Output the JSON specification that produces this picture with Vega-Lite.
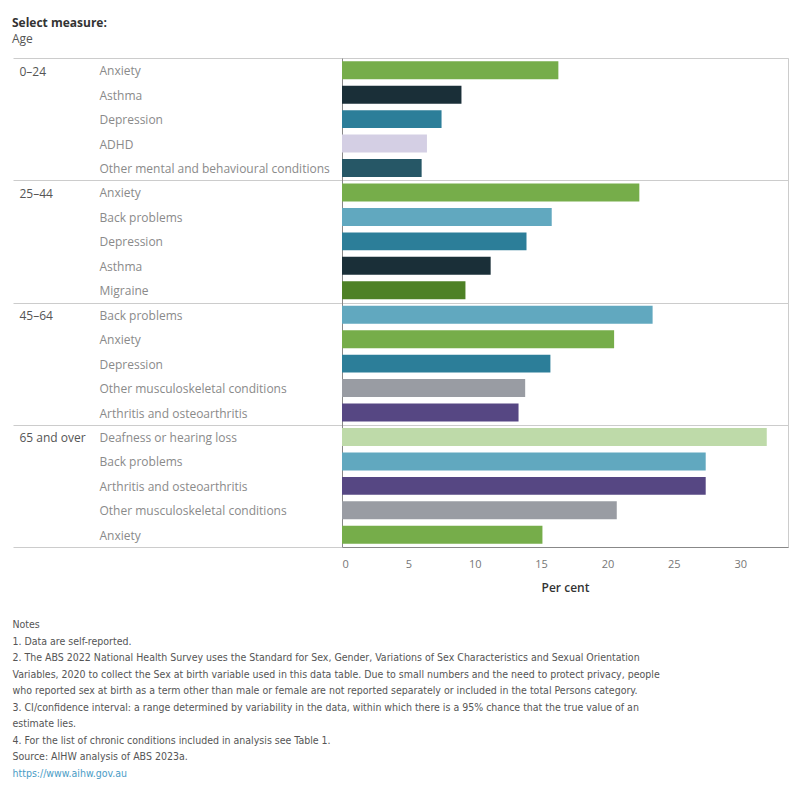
{
  "$schema": "https://vega.github.io/schema/vega-lite/v6.json",
  "padding": {"left": 12, "top": 16, "right": 5, "bottom": 5},
  "background": "white",
  "title": {"text": "Select measure:", "subtitle": "Age", "anchor": "start", "frame": "bounds", "font": "Open Sans", "fontSize": 12, "fontWeight": "bold", "color": "#333333", "subtitleFont": "Open Sans", "subtitleFontSize": 12, "subtitleColor": "#555555", "subtitlePadding": 4, "offset": 6},
  "config": {"view": {"stroke": null}, "font": "Open Sans"},
  "vconcat": [
    {
      "width": 446,
      "height": 489,
      "view": {"stroke": "#cccccc"},
      "title": {
        "text": [
          "Notes",
          "1. Data are self-reported.",
          "2. The ABS 2022 National Health Survey uses the Standard for Sex, Gender, Variations of Sex Characteristics and Sexual Orientation",
          "Variables, 2020 to collect the Sex at birth variable used in this data table. Due to small numbers and the need to protect privacy, people",
          "who reported sex at birth as a term other than male or female are not reported separately or included in the total Persons category.",
          "3. CI/confidence interval: a range determined by variability in the data, within which there is a 95% chance that the true value of an",
          "estimate lies.",
          "4. For the list of chronic conditions included in analysis see Table 1.",
          "Source: AIHW analysis of ABS 2023a."
        ],
        "subtitle": "https://www.aihw.gov.au",
        "orient": "bottom",
        "anchor": "start",
        "frame": "bounds",
        "font": "DejaVu Sans Condensed",
        "fontSize": 10.5,
        "fontWeight": "normal",
        "color": "#555555",
        "lineHeight": 16.5,
        "subtitleFont": "DejaVu Sans Condensed",
        "subtitleFontSize": 10.5,
        "subtitleColor": "#4a9cc6",
        "subtitleLineHeight": 16.5,
        "subtitlePadding": 6.5,
        "offset": 27
      },
      "data": {"values": [
        {"age": "0–24", "condition": "Anxiety", "value": 16.3},
        {"age": "0–24", "condition": "Asthma", "value": 9.0},
        {"age": "0–24", "condition": "Depression", "value": 7.5},
        {"age": "0–24", "condition": "ADHD", "value": 6.4},
        {"age": "0–24", "condition": "Other mental and behavioural conditions", "value": 6.0},
        {"age": "25–44", "condition": "Anxiety", "value": 22.4},
        {"age": "25–44", "condition": "Back problems", "value": 15.8},
        {"age": "25–44", "condition": "Depression", "value": 13.9},
        {"age": "25–44", "condition": "Asthma", "value": 11.2},
        {"age": "25–44", "condition": "Migraine", "value": 9.3},
        {"age": "45–64", "condition": "Back problems", "value": 23.4},
        {"age": "45–64", "condition": "Anxiety", "value": 20.5},
        {"age": "45–64", "condition": "Depression", "value": 15.7},
        {"age": "45–64", "condition": "Other musculoskeletal conditions", "value": 13.8},
        {"age": "45–64", "condition": "Arthritis and osteoarthritis", "value": 13.3},
        {"age": "65 and over", "condition": "Deafness or hearing loss", "value": 32.0},
        {"age": "65 and over", "condition": "Back problems", "value": 27.4},
        {"age": "65 and over", "condition": "Arthritis and osteoarthritis", "value": 27.4},
        {"age": "65 and over", "condition": "Other musculoskeletal conditions", "value": 20.7},
        {"age": "65 and over", "condition": "Anxiety", "value": 15.1}
      ]},
      "layer": [
        {
          "mark": {"type": "point", "opacity": 0},
          "encoding": {
            "y": {"field": "age", "type": "nominal", "sort": null,
              "scale": {"type": "band", "paddingInner": 0, "paddingOuter": 0},
              "axis": {"orient": "left", "title": null, "domain": false, "ticks": true, "tickBand": "extent", "tickSize": 329, "tickColor": "#cccccc", "tickWidth": 1, "grid": true, "gridColor": "#cccccc", "gridWidth": 1, "labelAlign": "left", "labelPadding": -6, "labelOffset": -48, "labelColor": "#555555", "labelFontSize": 12, "labelFont": "Open Sans", "labelBaseline": "middle"}}
          }
        },
        {
          "mark": {"type": "bar"},
          "encoding": {
            "y": {"field": "key", "type": "nominal", "sort": null,
              "scale": {"paddingInner": 0.264, "paddingOuter": 0.132},
              "axis": {"orient": "left", "title": null, "domain": true, "domainColor": "#888888", "ticks": false, "grid": false, "labelAlign": "left", "labelPadding": 243, "labelColor": "#8a8a8a", "labelFontSize": 12, "labelFont": "Open Sans", "labelLimit": 300, "labelOffset": 1, "labelExpr": "split(datum.value, '|')[1]"}},
            "x": {"field": "value", "type": "quantitative",
              "scale": {"domain": [0, 33.6], "nice": false},
              "axis": {"values": [0, 5, 10, 15, 20, 25, 30], "ticks": false, "grid": false, "domain": true, "domainColor": "#888888", "labelColor": "#777777", "labelFontSize": 11, "labelPadding": 11, "title": "Per cent", "titleColor": "#333333", "titleFontSize": 12, "titleFontWeight": 600, "titlePadding": 13}},
            "color": {"field": "condition", "type": "nominal", "legend": null,
              "scale": {
                "domain": ["Anxiety", "Asthma", "Depression", "ADHD", "Other mental and behavioural conditions", "Back problems", "Migraine", "Other musculoskeletal conditions", "Arthritis and osteoarthritis", "Deafness or hearing loss"],
                "range": ["#76ad4a", "#1a2f38", "#2c7e99", "#d4cfe4", "#265766", "#61a8bf", "#4e8126", "#999ca3", "#564783", "#bedaa9"]}}
          },
          "transform": [{"calculate": "datum.age + '|' + datum.condition", "as": "key"}]
        }
      ],
      "resolve": {"scale": {"y": "independent"}, "axis": {"y": "independent"}}
    }
  ]
}
